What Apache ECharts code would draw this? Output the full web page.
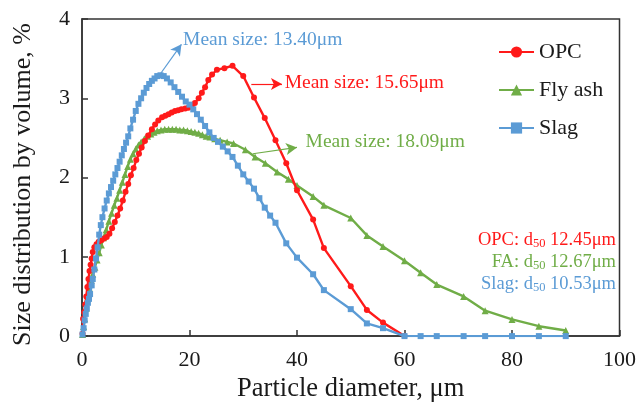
<!DOCTYPE html>
<html>
<head>
<meta charset="utf-8">
<script src="https://cdn.jsdelivr.net/npm/echarts@6/dist/echarts.min.js"></script>
<style>
  html, body { margin: 0; padding: 0; background: #ffffff; }
  #chart { width: 639px; height: 408px; }
</style>
</head>
<body>
<div id="chart"></div>
<script>
// Particle size distributions (diameter in µm, volume fraction in %)
const opcDiameter = [0.1,0.2,0.4,0.6,0.8,1.0,1.2,1.4,1.6,1.8,2.0,2.3,2.7,3.1,3.6,4.1,4.6,5.1,5.6,6.1,6.6,7.1,7.6,8.1,8.6,9.1,9.6,10.1,10.6,11.1,11.7,12.3,13.0,13.6,14.2,14.9,15.5,16.1,16.7,17.3,17.9,18.5,19.2,19.8,20.4,21.0,21.7,22.3,22.9,23.5,24.2,25.1,26.5,28.0,30.0,32,34,36,38,40,43,45,50,53,56,60];
const opcVolume   = [0.03,0.22,0.3,0.4,0.5,0.62,0.72,0.82,0.9,0.98,1.06,1.12,1.16,1.19,1.21,1.23,1.25,1.29,1.36,1.44,1.52,1.61,1.71,1.82,1.92,2.03,2.12,2.22,2.3,2.38,2.46,2.53,2.61,2.67,2.72,2.76,2.78,2.8,2.82,2.84,2.85,2.86,2.87,2.88,2.9,2.94,3.0,3.07,3.14,3.23,3.3,3.36,3.38,3.41,3.28,3.01,2.75,2.47,2.18,1.84,1.47,1.11,0.63,0.33,0.17,0.0];

const flyAshDiameter = [0.1,0.3,0.5,0.8,1.1,1.4,1.7,2.0,2.4,2.8,3.2,3.6,4.0,4.5,5.0,5.5,6.0,6.5,7.0,7.5,8.0,8.5,9.0,9.5,10.0,10.5,11.0,11.6,12.2,12.8,13.4,14.0,14.7,15.4,16.1,16.8,17.5,18.2,18.9,19.6,20.3,21.0,21.7,22.4,23.1,23.8,24.7,25.7,27.0,28.2,30.4,32.2,34.1,36.3,38.4,40,43,45,50,53,56,60,63,66,71,75,80,85,90];
const flyAshVolume   = [0.02,0.12,0.22,0.35,0.48,0.6,0.7,0.78,0.87,0.96,1.05,1.15,1.24,1.34,1.45,1.55,1.65,1.74,1.84,1.94,2.04,2.14,2.23,2.3,2.36,2.41,2.45,2.49,2.52,2.55,2.57,2.59,2.6,2.61,2.61,2.61,2.61,2.6,2.6,2.59,2.58,2.57,2.56,2.54,2.52,2.51,2.49,2.47,2.45,2.43,2.35,2.26,2.18,2.07,1.98,1.9,1.76,1.65,1.49,1.27,1.13,0.95,0.8,0.65,0.5,0.32,0.21,0.125,0.07];

const slagDiameter = [0.1,0.3,0.5,0.7,0.9,1.1,1.3,1.5,1.8,2.0,2.3,2.6,2.9,3.2,3.5,3.8,4.2,4.6,5.0,5.4,5.8,6.2,6.6,7.0,7.4,7.8,8.2,8.6,9.0,9.5,10.0,10.5,11.0,11.5,12.0,12.5,13.0,13.5,14.0,14.6,15.2,15.8,16.5,17.2,17.9,18.6,19.3,20.0,20.7,21.4,22.1,22.9,23.7,24.5,25.3,26.2,27.1,28.0,29.0,30.0,31,32,33,34,35,36,38,40,43,45,50,53,56,60,63,66,71,75,80,85,90];
const slagVolume   = [0.02,0.1,0.2,0.28,0.35,0.42,0.47,0.53,0.64,0.72,0.84,0.98,1.12,1.28,1.4,1.5,1.61,1.71,1.8,1.88,1.96,2.04,2.12,2.2,2.28,2.36,2.44,2.52,2.62,2.73,2.84,2.93,3.0,3.07,3.13,3.18,3.22,3.25,3.28,3.29,3.28,3.25,3.2,3.14,3.08,3.02,2.96,2.92,2.86,2.8,2.73,2.65,2.57,2.5,2.45,2.39,2.33,2.26,2.15,2.04,1.95,1.86,1.74,1.62,1.52,1.43,1.17,0.99,0.78,0.58,0.34,0.16,0.1,0,0,0,0,0,0,0,0];

const seriesNames = ['OPC', 'Fly ash', 'Slag'];
const xTicks = { min: 0, max: 100, interval: 20 };
const yTicks = { min: 0, max: 4, interval: 1 };

// Mean-size callouts: arrow start, arrow end, text anchor (data coordinates)
const slagMean   = { text: 'Mean size: 13.40\u03bcm', from: [14.5, 3.30], to: [18.5, 3.68], at: [18.8, 3.74] };
const opcMean    = { text: 'Mean size: 15.65\u03bcm', from: [31.5, 3.18], to: [37.2, 3.18], at: [37.7, 3.19] };
const flyAshMean = { text: 'Mean size: 18.09\u03bcm', from: [31.8, 2.30], to: [40.0, 2.38], at: [41.6, 2.45] };

const d50Lines = [
  { name: 'OPC:',  value: '12.45\u03bcm', color: '#ff1a1a' },
  { name: 'FA:',   value: '12.67\u03bcm', color: '#70ad47' },
  { name: 'Slag:', value: '10.53\u03bcm', color: '#5b9bd5' }
];

const FONT = "'Liberation Serif', 'Times New Roman', serif";
const RED = '#ff1a1a', GREEN = '#70ad47', BLUE = '#5b9bd5';
const INK = '#1a1a1a';

const pairs = (xs, ys) => xs.map((x, i) => [x, ys[i]]);

function callout(c, color) {
  return {
    markLine: {
      silent: true,
      symbol: ['none', 'arrow'],
      symbolSize: [9, 11],
      lineStyle: { color: color, width: 1.2, type: 'solid' },
      label: { show: false },
      data: [[{ coord: c.from }, { coord: c.to }]]
    },
    markPoint: {
      silent: true,
      symbol: 'circle',
      symbolSize: 0,
      data: [{
        coord: c.at,
        label: {
          show: true, position: 'right', distance: 0,
          formatter: c.text, color: color,
          fontFamily: FONT, fontSize: 19.5
        }
      }]
    }
  };
}

const chart = echarts.init(document.getElementById('chart'), null, { renderer: 'canvas' });

const option = {
  animation: false,
  backgroundColor: '#ffffff',
  grid: {
    left: 82, right: 19, top: 19, bottom: 69,
    show: true, borderColor: '#333333', borderWidth: 1.5, backgroundColor: 'transparent'
  },
  legend: {
    data: seriesNames,
    orient: 'vertical',
    left: 493, top: 36,
    itemWidth: 35, itemHeight: 14, itemGap: 16,
    textStyle: { fontFamily: FONT, fontSize: 22, color: INK, lineHeight: 22 }
  },
  xAxis: {
    type: 'value',
    min: xTicks.min, max: xTicks.max, interval: xTicks.interval,
    name: 'Particle diameter, \u03bcm',
    nameLocation: 'middle', nameGap: 33,
    nameTextStyle: { fontFamily: FONT, fontSize: 26.5, color: INK },
    axisLine: { lineStyle: { color: '#333333', width: 1.5 } },
    axisTick: { inside: true, length: 6, lineStyle: { color: '#333333', width: 1.5 } },
    axisLabel: { fontFamily: FONT, fontSize: 22, color: INK, margin: 13 },
    splitLine: { show: false }
  },
  yAxis: {
    type: 'value',
    min: yTicks.min, max: yTicks.max, interval: yTicks.interval,
    name: 'Size distribution by volume, %',
    nameLocation: 'middle', nameGap: 46, nameRotate: 90,
    nameTextStyle: { fontFamily: FONT, fontSize: 26, color: INK, padding: [0, 14, 0, 0] },
    axisLine: { lineStyle: { color: '#333333', width: 1.5 } },
    axisTick: { inside: true, length: 6, lineStyle: { color: '#333333', width: 1.5 } },
    axisLabel: { fontFamily: FONT, fontSize: 22, color: INK, margin: 12 },
    splitLine: { show: false }
  },
  series: [
    Object.assign({
      name: 'Fly ash', type: 'line', data: pairs(flyAshDiameter, flyAshVolume),
      symbol: 'triangle', symbolSize: 7, showAllSymbol: true,
      lineStyle: { color: GREEN, width: 2.4 }, itemStyle: { color: GREEN },
      z: 2
    }, callout(flyAshMean, GREEN)),
    Object.assign({
      name: 'OPC', type: 'line', data: pairs(opcDiameter, opcVolume),
      symbol: 'circle', symbolSize: 6, showAllSymbol: true,
      lineStyle: { color: RED, width: 2.4 }, itemStyle: { color: RED },
      z: 3
    }, callout(opcMean, RED)),
    Object.assign({
      name: 'Slag', type: 'line', data: pairs(slagDiameter, slagVolume),
      symbol: 'rect', symbolSize: 6, showAllSymbol: true,
      lineStyle: { color: BLUE, width: 2.4 }, itemStyle: { color: BLUE },
      z: 4
    }, callout(slagMean, BLUE))
  ],
  graphic: d50Lines.map((d, i) => ({
    type: 'text',
    right: 23,
    top: 231 + i * 22,
    silent: true,
    style: {
      text: '{n|' + d.name + ' d}{s|50}{n| ' + d.value + '}',
      fill: d.color,
      rich: {
        n: { fontFamily: FONT, fontSize: 18.5, fill: d.color, color: d.color },
        s: { fontFamily: FONT, fontSize: 12.5, fill: d.color, color: d.color, verticalAlign: 'bottom', padding: [7, 0, 0, 0] }
      }
    }
  }))
};

chart.setOption(option);
</script>
</body>
</html>
